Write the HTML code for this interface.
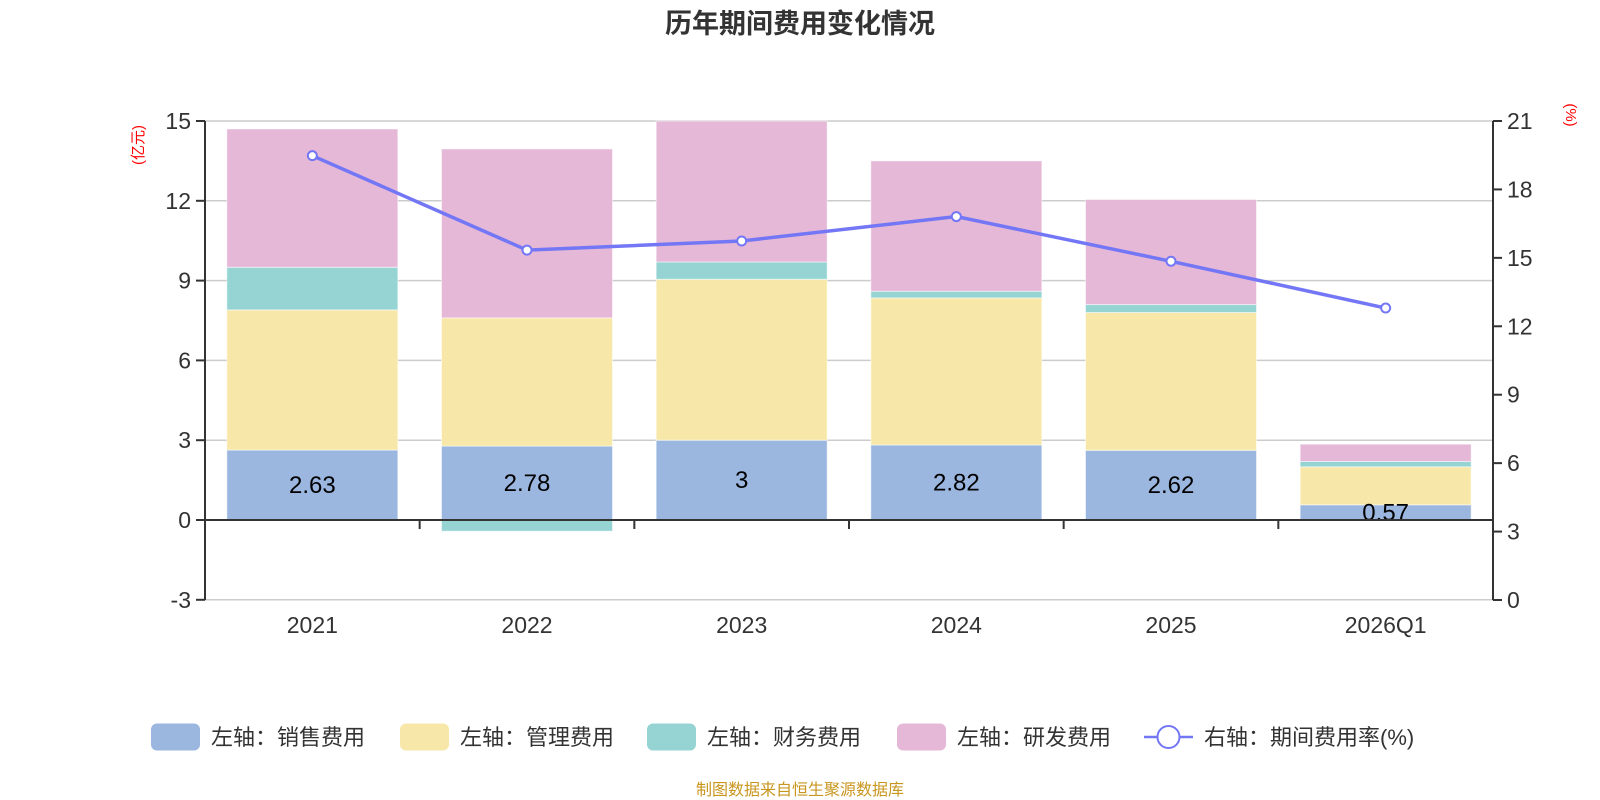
<!DOCTYPE html>
<html><head><meta charset="utf-8"><style>
body{margin:0;background:#fff;}
svg{display:block;font-family:"Liberation Sans","Noto Sans CJK SC",sans-serif;}
</style></head><body>
<svg id="chart" width="1600" height="800">
<text x="800" y="33" text-anchor="middle" font-size="27" font-weight="bold" fill="#333">历年期间费用变化情况</text>
<text transform="translate(143,145) rotate(-90)" text-anchor="middle" font-size="15" fill="#f00">(亿元)</text>
<text transform="translate(1566,115) rotate(90)" text-anchor="middle" font-size="15" fill="#f00">(%)</text>
<g id="grid"></g><g id="bars"></g><g id="axes"></g><g id="line"></g>
<g id="legend" font-size="22" fill="#333"></g>
<text x="800" y="795" text-anchor="middle" font-size="16" fill="#c8961e">制图数据来自恒生聚源数据库</text>
</svg>
<script>
const categories=["2021","2022","2023","2024","2025","2026Q1"];
const sales=[2.63,2.78,3,2.82,2.62,0.57];
const mgmt=[5.27,4.82,6.05,5.53,5.18,1.43];
const fin=[1.6,-0.42,0.65,0.25,0.3,0.2];
const rnd=[5.2,6.35,5.3,4.9,3.95,0.65];
const rate=[19.48,15.34,15.74,16.81,14.85,12.8];
const leftTicks=[-3,0,3,6,9,12,15];
const rightTicks=[0,3,6,9,12,15,18,21];
const NS="http://www.w3.org/2000/svg";
const X0=205,X1=1493,YT=121,YB=600,Y0=520;
const yL=v=>Y0-v*(Y0-YT)/15;
const yR=v=>YB-v*(YB-YT)/21;
const cw=(X1-X0)/categories.length;
const xc=i=>X0+cw*(i+0.5);
function mk(tag,attrs,parent,txt){const e=document.createElementNS(NS,tag);for(const k in attrs)e.setAttribute(k,attrs[k]);if(txt!==undefined)e.textContent=txt;document.getElementById(parent).appendChild(e);return e;}
leftTicks.forEach(t=>{
 const g=mk('line',{x1:X0,x2:X1,y1:yL(t),y2:yL(t),stroke:'#ccc','stroke-width':1.5},'grid');
 
 
 const tk=mk('line',{x1:X0-9,x2:X0,y1:yL(t),y2:yL(t),stroke:'#333','stroke-width':2},'axes');
 
 
 const l=mk('text',{x:X0-14,y:yL(t)+8,'text-anchor':'end','font-size':23,fill:'#333'},'axes',t);
 
 
});
rightTicks.forEach(t=>{
 const tk=mk('line',{x1:X1,x2:X1+9,y1:yR(t),y2:yR(t),stroke:'#333','stroke-width':2},'axes');
 
 
 const l=mk('text',{x:X1+14,y:yR(t)+8,'font-size':23,fill:'#333'},'axes',t);
 
 
});
const series=[[sales,'#9bb7e0','sales'],[mgmt,'#f7e8a9','mgmt'],[fin,'#96d4d4','fin'],[rnd,'#e6b8d8','rnd']];
const bw=171;
categories.forEach((c,i)=>{
 let pos=0,neg=0;
 series.forEach(([arr,col,nm])=>{
  const v=arr[i];let a,b;
  if(v>=0){a=pos;b=pos+v;pos=b;}else{a=neg;b=neg+v;neg=b;}
  const y1=yL(Math.max(a,b)),y2=yL(Math.min(a,b));
  const r=mk('rect',{x:xc(i)-bw/2,y:y1,width:bw,height:y2-y1,fill:col,stroke:'#fff','stroke-opacity':0.5,'stroke-width':1},'bars');
  
  
 });
 const lb=mk('text',{x:xc(i),y:yL(sales[i]/2)+8,'text-anchor':'middle','font-size':24,fill:'#000'},'bars',sales[i]);
 
 
 const cl=mk('text',{x:xc(i),y:633,'text-anchor':'middle','font-size':23,fill:'#333'},'axes',c);
 
 
});
for(let i=1;i<categories.length;i++){
 const t=mk('line',{x1:X0+cw*i,x2:X0+cw*i,y1:Y0,y2:Y0+9,stroke:'#333','stroke-width':2},'axes');
 
 
}
let a=mk('line',{x1:X0,x2:X0,y1:YT,y2:YB,stroke:'#333','stroke-width':2},'axes');

a=mk('line',{x1:X1,x2:X1,y1:YT,y2:YB,stroke:'#333','stroke-width':2},'axes');

a=mk('line',{x1:X0,x2:X1,y1:yL(0),y2:yL(0),stroke:'#333','stroke-width':2},'axes');

const pl=mk('polyline',{points:rate.map((v,i)=>xc(i)+','+yR(v)).join(' '),fill:'none',stroke:'#7477f5','stroke-width':3.5},'line');


rate.forEach((v,i)=>{
 const p=mk('circle',{cx:xc(i),cy:yR(v),r:4.5,fill:'#fff',stroke:'#7477f5','stroke-width':2},'line');
 
 
});
const leg=[[151,'#9bb7e0','左轴：销售费用'],[400,'#f7e8a9','左轴：管理费用'],[647,'#96d4d4','左轴：财务费用'],[897,'#e6b8d8','左轴：研发费用']];
const LY=737;
leg.forEach(([x,col,t])=>{
 const r=mk('rect',{x:x,y:LY-13.5,width:49,height:27,rx:6,fill:col},'legend');
 
 
 const tx=mk('text',{x:x+60,y:LY+8},'legend',t);
 
 
});
let ll=mk('line',{x1:1144,x2:1193,y1:LY,y2:LY,stroke:'#7477f5','stroke-width':2.5},'legend');

ll=mk('circle',{cx:1168.5,cy:LY,r:11,fill:'#fff',stroke:'#7477f5','stroke-width':2},'legend');

ll=mk('text',{x:1204,y:LY+8},'legend','右轴：期间费用率(%)');

</script>
</body></html>
